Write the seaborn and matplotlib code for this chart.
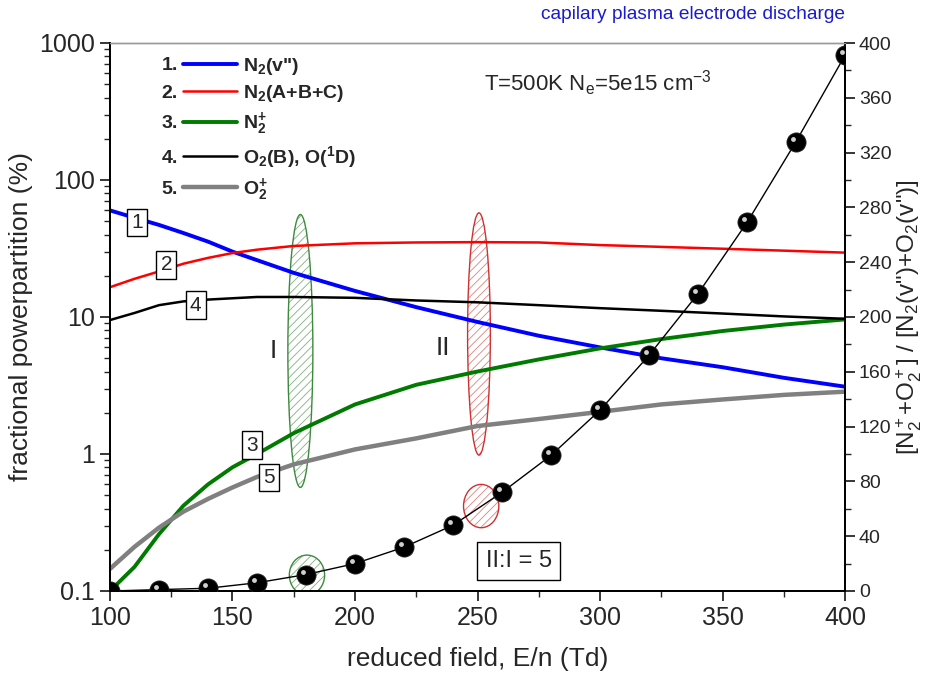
import matplotlib
matplotlib.use('Agg')
import matplotlib.pyplot as plt
import seaborn as sns
import numpy as np
import pandas as pd
from matplotlib.patches import Ellipse
from matplotlib.ticker import MultipleLocator, FixedLocator, NullFormatter, LogLocator
from matplotlib.transforms import offset_copy

# ---- valeurs ----
field = [100, 110, 120, 130, 140, 150, 160, 175, 200, 225, 250, 275, 300, 325, 350, 375, 400]
n2_vib = [60, 53, 47, 41, 35.5, 30, 26, 21, 15.5, 11.8, 9.2, 7.3, 6.0, 5.0, 4.3, 3.6, 3.1]
n2_abc = [16.5, 19, 21.5, 24.5, 27, 29.3, 31, 33, 34.5, 35, 35.2, 35, 33.5, 32.5, 31.5, 30.5, 29.5]
n2_ion = [0.1, 0.15, 0.26, 0.42, 0.6, 0.8, 1.0, 1.42, 2.3, 3.2, 4.0, 4.9, 5.9, 6.9, 7.9, 8.8, 9.6]
o2_exc = [9.5, 10.7, 12.2, 13, 13.4, 13.7, 14, 14, 13.8, 13.2, 12.8, 12.2, 11.6, 11.1, 10.6, 10.1, 9.7]
o2_ion = [0.145, 0.21, 0.29, 0.38, 0.47, 0.57, 0.68, 0.84, 1.08, 1.3, 1.6, 1.8, 2.03, 2.3, 2.5, 2.7, 2.85]

ratio_field = [100, 120, 140, 160, 180, 200, 220, 240, 260, 280, 300, 320, 340, 360, 380, 400]
ratio = [0, 1, 2, 6, 12, 20, 32, 48, 72, 99, 132, 172, 217, 269, 328, 391]

labels = [r'N$_{\mathbf{2}}$(v")', r'N$_{\mathbf{2}}$(A+B+C)', r'N$_{\mathbf{2}}^{\mathbf{+}}$',
          r'O$_{\mathbf{2}}$(B), O($^{\mathbf{1}}$D)', r'O$_{\mathbf{2}}^{\mathbf{+}}$']
series = [n2_vib, n2_abc, n2_ion, o2_exc, o2_ion]
colors = ['#0000ff', '#ff0000', '#007a00', '#000000', '#808080']
widths = [2.8, 1.8, 2.8, 1.8, 3.2]

# position des étiquettes numérotées (Td, %)
tag_x = [111, 123, 158, 135, 165]
tag_y = [49, 24, 1.16, 12.2, 0.67]

sns.set_theme(style='ticks')
plt.rcParams['font.family'] = ['Liberation Sans', 'DejaVu Sans']
plt.rcParams['mathtext.fontset'] = 'custom'
plt.rcParams['mathtext.rm'] = 'Liberation Sans'
plt.rcParams['mathtext.it'] = 'Liberation Sans:italic'
plt.rcParams['mathtext.bf'] = 'Liberation Sans:bold'
plt.rcParams['mathtext.default'] = 'regular'
plt.rcParams['hatch.linewidth'] = 0.6

fig = plt.figure(figsize=(9.29, 6.88), dpi=100)
ax = fig.add_axes([0.1184, 0.1410, 0.7912, 0.7965])
ax2 = ax.twinx()

for vals, c, lw, lab in zip(series, colors, widths, labels):
    sns.lineplot(x=field, y=vals, ax=ax, color=c, linewidth=lw, label=lab)

ax.set_yscale('log')
ax.set_ylim(0.1, 1000)
ax.set_xlim(100, 400)
ax.set_yticks([0.1, 1, 10, 100, 1000])
ax.set_yticklabels(['0.1', '1', '10', '100', '1000'])
ax.yaxis.set_minor_locator(LogLocator(base=10, subs=np.arange(2, 10)))
ax.yaxis.set_minor_formatter(NullFormatter())
ax.xaxis.set_major_locator(MultipleLocator(50))
ax.xaxis.set_minor_locator(MultipleLocator(25))
ax.tick_params(axis='both', which='major', labelsize=18, length=7, width=1.3, direction='out', pad=4)
ax.tick_params(axis='both', which='minor', length=4, width=1.0, direction='out')
ax.set_xlabel('reduced field, E/n (Td)', fontsize=19, labelpad=12)
ax.set_ylabel('fractional powerpartition (%)', fontsize=19, labelpad=4)

# rapport ions / vib sur l'axe droit
sns.lineplot(x=ratio_field, y=ratio, ax=ax2, color='black', linewidth=1.0)
sns.scatterplot(x=ratio_field, y=ratio, ax=ax2, color='black', s=190, edgecolor='#222222', linewidth=0.6, zorder=5)
hl = offset_copy(ax2.transData, fig=fig, x=-3, y=3, units='dots')
ax2.plot(ratio_field, ratio, 'o', ms=3.5, color='#cfcfcf', mec='none', transform=hl, zorder=6)
ax2.set_ylim(0, 400)
ax2.yaxis.set_major_locator(MultipleLocator(40))
ax2.yaxis.set_minor_locator(MultipleLocator(20))
ax2.tick_params(axis='y', which='major', labelsize=14, length=7, width=1.3, direction='out', pad=3)
ax2.tick_params(axis='y', which='minor', length=4, width=1.0, direction='out')
ax2.set_ylabel(r'[N$_2^+$+O$_2^+$] / [N$_2$(v")+O$_2$(v")]', fontsize=17.5, labelpad=2)

for a in (ax, ax2):
    for side in ('left', 'right', 'bottom'):
        a.spines[side].set_color('black')
        a.spines[side].set_linewidth(1.3)
    a.spines['top'].set_color('#999999')
    a.spines['top'].set_linewidth(1.0)

# ellipses hachurées
ell = [((0.259, 0.438), 0.034, 0.498, '#3c8a3c', '#7fb27f'),
       ((0.502, 0.469), 0.031, 0.442, '#d03030', '#e08080'),
       ((0.505, 0.155), 0.048, 0.079, '#d03030', '#e08080'),
       ((0.268, 0.029), 0.048, 0.073, '#3c8a3c', '#7fb27f')]
for (cx, cy), w, h, ec, hc in ell:
    ax.add_patch(Ellipse((cx, cy), w, h, transform=ax.transAxes, facecolor='none',
                         edgecolor=hc, hatch='////', linewidth=0, zorder=1.5))
    ax.add_patch(Ellipse((cx, cy), w, h, transform=ax.transAxes, facecolor='none',
                         edgecolor=ec, linewidth=1.0, zorder=1.6))

for i, (tx, ty) in enumerate(zip(tag_x, tag_y)):
    ax.text(tx, ty, str(i + 1), fontsize=15, ha='center', va='center', zorder=4,
            bbox=dict(boxstyle='square,pad=0.2', fc='white', ec='black', lw=1.0))

ax.text(166.5, 5.6, 'I', fontsize=19, ha='center', va='center')
ax.text(236, 5.9, 'II', fontsize=19, ha='center', va='center')
ax.text(0.556, 0.055, 'II:I = 5', transform=ax.transAxes, fontsize=17, ha='center', va='center',
        bbox=dict(boxstyle='square,pad=0.35', fc='white', ec='black', lw=1.0))
ax.text(0.509, 0.927, r'T=500K N$_e$=5e15 cm$^{-3}$', transform=ax.transAxes, fontsize=16,
        ha='left', va='center')
fig.text(0.9096, 0.979, 'capilary plasma electrode discharge', color='#1a1ad0', fontsize=13.8,
         ha='right', va='center')

leg = ax.legend(loc='upper left', bbox_to_anchor=(0.099, 0.977), frameon=False,
                prop={'weight': 'bold', 'size': 14}, handlelength=2.8, handletextpad=0.3,
                labelspacing=0.33, borderpad=0, borderaxespad=0)

# numéros devant les entrées de légende
fig.canvas.draw()
for i, ln in enumerate(leg.get_lines()):
    pts = ln.get_transform().transform(ln.get_xydata())
    px, py = ax.transAxes.inverted().transform((pts[:, 0].min() - 5, pts[:, 1].mean()))
    ax.text(px, py, f'{i + 1}.', transform=ax.transAxes, fontsize=14, fontweight='bold',
            ha='right', va='center_baseline')

fig.savefig('out.png', dpi=100)
